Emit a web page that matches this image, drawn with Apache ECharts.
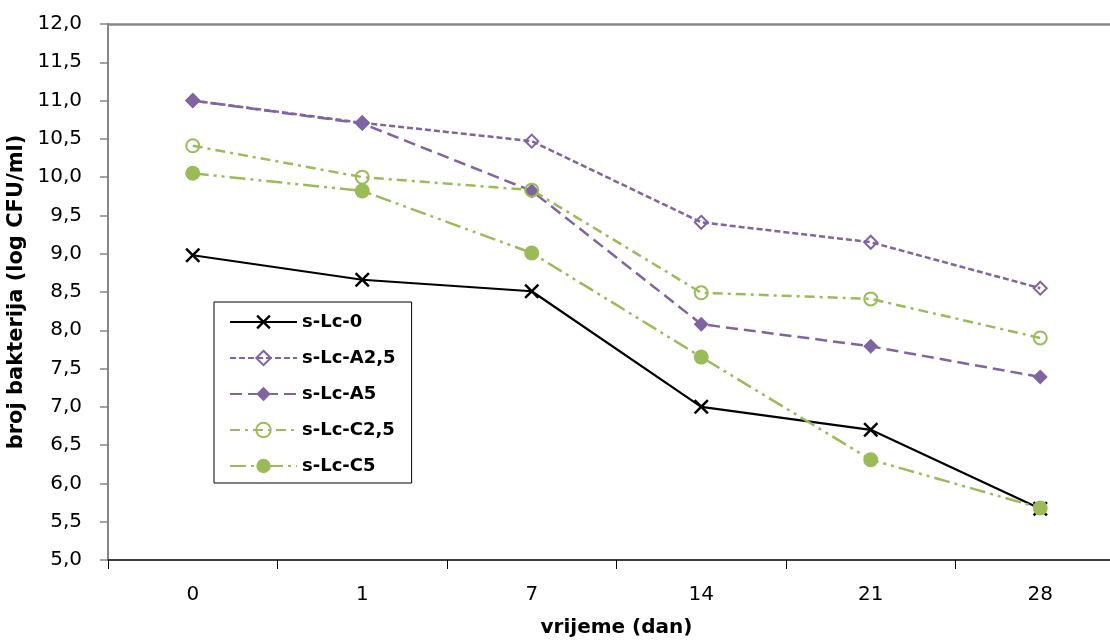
<!DOCTYPE html>
<html>
<head>
<meta charset="utf-8">
<script src="https://cdn.jsdelivr.net/npm/echarts@6/dist/echarts.min.js"></script>
<style>
html,body{margin:0;padding:0;background:#fff;}
#chart{width:1110px;height:643px;}
</style>
</head>
<body>
<div id="chart"></div>
<script>
const categories = ['0', '1', '7', '14', '21', '28'];
const seriesNames = ['s-Lc-0', 's-Lc-A2,5', 's-Lc-A5', 's-Lc-C2,5', 's-Lc-C5'];
const sLc0   = [8.98, 8.66, 8.51, 7.00, 6.70, 5.67];
const sLcA25 = [11.00, 10.71, 10.47, 9.41, 9.15, 8.55];
const sLcA5  = [11.00, 10.70, 9.82, 8.08, 7.79, 7.39];
const sLcC25 = [10.41, 10.00, 9.83, 8.49, 8.41, 7.90];
const sLcC5  = [10.05, 9.82, 9.01, 7.65, 6.31, 5.68];
const yTicksMin = 5, yTicksMax = 12, yTickStep = 0.5;

const PURPLE = '#8064A2';
const GREEN = '#9BBB59';
const FONT = '"DejaVu Sans", "Liberation Sans", sans-serif';
const XPATH = 'path://M0,1.4L1.4,0L6,4.6L10.6,0L12,1.4L7.4,6L12,10.6L10.6,12L6,7.4L1.4,12L0,10.6L4.6,6Z';

const chart = echarts.init(document.getElementById('chart'), null, {renderer: 'canvas'});
chart.setOption({
  animation: false,
  backgroundColor: '#fff',
  grid: {
    left: 108, top: 24, right: -15, bottom: 83,
    outerBoundsMode: 'none',
    containLabel: false,
    show: false
  },
  legend: {
    orient: 'vertical',
    left: 214, top: 302,
    borderColor: '#000', borderWidth: 1,
    padding: [9, 16, 6, 15],
    itemWidth: 67, itemHeight: 18, itemGap: 14,
    lineStyle: {width: 2},
    textStyle: {fontFamily: FONT, fontWeight: 'bold', fontSize: 18, color: '#000', lineHeight: 22},
    data: seriesNames
  },
  xAxis: [{
    type: 'category',
    data: categories,
    boundaryGap: true,
    name: 'vrijeme (dan)',
    nameLocation: 'middle',
    nameGap: 58,
    nameTextStyle: {fontFamily: FONT, fontWeight: 'bold', fontSize: 20, color: '#000'},
    axisLine: {show: true, lineStyle: {color: '#000', width: 1.5}},
    axisTick: {show: true, length: 9, lineStyle: {color: '#000', width: 1}},
    axisLabel: {fontFamily: FONT, fontSize: 20, color: '#000', margin: 25},
    splitLine: {show: false}
  }, {
    type: 'category',
    data: categories,
    position: 'top',
    boundaryGap: true,
    axisLine: {show: true, lineStyle: {color: '#888', width: 2.5}},
    axisTick: {show: false},
    axisLabel: {show: false},
    splitLine: {show: false}
  }],
  yAxis: {
    type: 'value',
    min: yTicksMin, max: yTicksMax, interval: yTickStep,
    name: 'broj bakterija (log CFU/ml)',
    nameLocation: 'middle',
    nameGap: 59,
    nameRotate: 90,
    nameTextStyle: {fontFamily: FONT, fontWeight: 'bold', fontSize: 21, color: '#000'},
    axisLine: {show: true, lineStyle: {color: '#868686', width: 2}},
    axisTick: {show: true, length: 8, lineStyle: {color: '#868686', width: 1.5}},
    axisLabel: {
      fontFamily: FONT, fontSize: 20, color: '#000', margin: 26,
      formatter: v => v.toFixed(1).replace('.', ',')
    },
    splitLine: {show: false}
  },
  series: [
    {
      name: seriesNames[0], type: 'line', data: sLc0,
      symbol: XPATH, symbolSize: 15,
      lineStyle: {color: '#000', width: 2.2, type: 'solid'},
      itemStyle: {color: '#000'}
    },
    {
      name: seriesNames[1], type: 'line', data: sLcA25,
      symbol: 'diamond', symbolSize: 13,
      lineStyle: {color: PURPLE, width: 2.5, type: [6, 3]},
      itemStyle: {color: 'rgba(255,255,255,0)', borderColor: PURPLE, borderWidth: 2}
    },
    {
      name: seriesNames[2], type: 'line', data: sLcA5,
      symbol: 'diamond', symbolSize: 15,
      lineStyle: {color: PURPLE, width: 2.5, type: [12, 6]},
      itemStyle: {color: PURPLE}
    },
    {
      name: seriesNames[3], type: 'line', data: sLcC25,
      symbol: 'circle', symbolSize: 13,
      lineStyle: {color: GREEN, width: 2.5, type: [10, 5, 3, 5]},
      itemStyle: {color: 'rgba(255,255,255,0)', borderColor: GREEN, borderWidth: 2}
    },
    {
      name: seriesNames[4], type: 'line', data: sLcC5,
      symbol: 'circle', symbolSize: 15,
      lineStyle: {color: GREEN, width: 2.5, type: [16, 5, 3, 5, 3, 5]},
      itemStyle: {color: GREEN}
    }
  ]
});
</script>
</body>
</html>
